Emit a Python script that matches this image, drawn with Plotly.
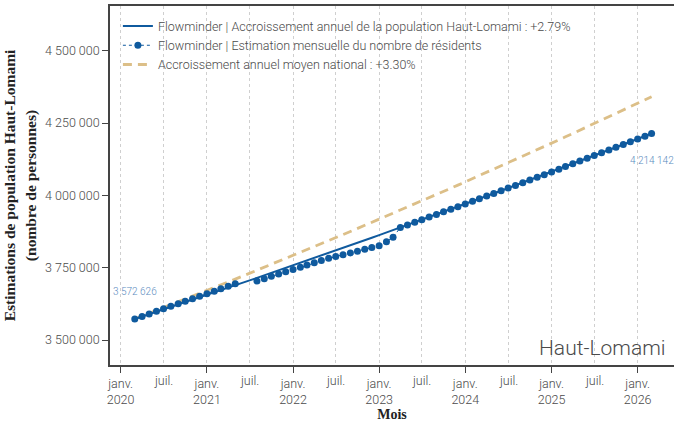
import numpy as np
import pandas as pd
import plotly.graph_objects as go

# Monthly resident estimates, Haut-Lomami (March 2020 - March 2026)
months = pd.date_range("2020-03-01", "2026-03-01", freq="MS")
residents = [
    3572626, 3581500, 3590300, 3599000, 3607600, 3616400, 3625100, 3633800,
    3642500, 3651200, 3660000, 3668600, 3677300, 3686000, 3694700,
    None, None,
    3704000, 3712000, 3720000, 3727800, 3735600, 3743400, 3751200, 3759000,
    3766800, 3774600, 3782400, 3788600, 3794800, 3801000, 3807200, 3813400,
    3819600, 3825800, 3840000, 3855000,
    3889000, 3897900, 3906900, 3915800, 3924800, 3933800, 3942900, 3951900,
    3961000, 3970100, 3979200, 3988300, 3997500, 4006700, 4015900, 4025100,
    4034300, 4043600, 4052900, 4062200, 4071500, 4080900, 4090200, 4099600,
    4109000, 4118500, 4127900, 4137400, 4146900, 4156400, 4165900, 4175500,
    4185100, 4194700, 4204300, 4214142,
]

growth_local_pct = 2.79      # annual growth, Haut-Lomami
growth_national_pct = 3.30   # mean annual national growth
region = "Haut-Lomami"

janv_ticks = pd.date_range("2020-01-01", "2026-01-01", freq="YS")
janv_labels = [f"janv.<br>{d.year}" for d in janv_ticks]
juil_ticks = pd.date_range("2020-07-01", "2025-07-01", freq="12MS")
y_ticks = [3500000, 3750000, 4000000, 4250000, 4500000]

BLUE = "#0f5a9e"
TAN = "#dcbf88"
LABEL_BLUE = "#5b8cc0"
GRID = "#cfcfcf"
AXIS = "#444444"
TEXT = "#4a4a4a"


def fmt(v):
    return f"{v:,}".replace(",", " ")


# growth curves anchored on the first monthly estimate
years = np.asarray((months - months[0]).days) / 365.25
start = residents[0]
trend_local = start * (1 + growth_local_pct / 100) ** years
trend_national = start * (1 + growth_national_pct / 100) ** years

fig = go.Figure()

fig.add_trace(go.Scatter(
    x=months, y=trend_national, mode="lines",
    line=dict(color=TAN, width=2.8, dash="9px,6px"),
    name=f"Accroissement annuel moyen national : +{growth_national_pct:.2f}%",
    legendrank=3,
))
fig.add_trace(go.Scatter(
    x=months, y=trend_local, mode="lines",
    line=dict(color=BLUE, width=2),
    name=f"Flowminder | Accroissement annuel de la population {region} : +{growth_local_pct:.2f}%",
    legendrank=1,
))
fig.add_trace(go.Scatter(
    x=months, y=residents, mode="lines+markers",
    line=dict(color=BLUE, width=1, dash="dot"),
    marker=dict(color=BLUE, size=7),
    connectgaps=False,
    name="Flowminder | Estimation mensuelle du nombre de résidents",
    legendrank=2,
))

roboto = dict(family="Roboto, Noto Sans, sans-serif", weight=300)

annotations = [
    dict(x=months[0], y=residents[0], xref="x", yref="y", text=fmt(residents[0]),
         showarrow=False, yshift=27, font=dict(size=10, color=LABEL_BLUE, **roboto)),
    dict(x=months[-1], y=residents[-1], xref="x", yref="y", text=fmt(residents[-1]),
         showarrow=False, yshift=-27, font=dict(size=10, color=LABEL_BLUE, **roboto)),
    dict(x=0.99, y=0.047, xref="paper", yref="paper", xanchor="right", yanchor="middle",
         text=region, showarrow=False, font=dict(size=21, color=TEXT, **roboto)),
]
for d in juil_ticks:
    annotations.append(dict(
        x=d, y=0, xref="x", yref="paper", yanchor="top", yshift=-6,
        text="juil.", showarrow=False, font=dict(size=12.5, color=TEXT, **roboto),
    ))

fig.update_layout(
    width=674, height=422,
    margin=dict(l=110, r=0, t=6, b=57),
    paper_bgcolor="white", plot_bgcolor="white",
    separators=", ",
    showlegend=True,
    legend=dict(
        x=0.014, y=0.985, xanchor="left", yanchor="top",
        bgcolor="rgba(0,0,0,0)", font=dict(size=12.5, color=TEXT, **roboto),
        traceorder="normal", itemwidth=30,
    ),
    annotations=annotations,
)

fig.update_xaxes(
    range=["2019-11-17", "2026-06-04"],
    tickmode="array", tickvals=janv_ticks, ticktext=janv_labels,
    ticks="outside", ticklen=6, tickcolor=AXIS, tickwidth=1.2,
    tickfont=dict(size=12.5, color=TEXT, **roboto),
    showline=True, linecolor=AXIS, linewidth=1.6, mirror=True,
    showgrid=True, gridcolor=GRID, griddash="dot", gridwidth=1,
    minor=dict(tickmode="array", tickvals=juil_ticks, showgrid=True,
               gridcolor=GRID, griddash="dot", gridwidth=1, ticks=""),
    zeroline=False,
    title=dict(text="Mois", standoff=4,
               font=dict(family="Liberation Serif, serif", size=14, color="#222", weight=700)),
)
fig.update_yaxes(
    range=[3413600, 4654500],
    tickmode="array", tickvals=y_ticks, tickformat=",d",
    ticks="outside", ticklen=6, tickcolor=AXIS, tickwidth=1.2,
    tickfont=dict(size=12.5, color=TEXT, **roboto),
    showline=True, linecolor=AXIS, linewidth=1.6,
    showgrid=False, zeroline=False,
    title=dict(text=f"Estimations de population {region}<br>(nombre de personnes)",
               standoff=5,
               font=dict(family="Liberation Serif, serif", size=15.5, color="#222", weight=700)),
)

fig.write_html("out.html")
